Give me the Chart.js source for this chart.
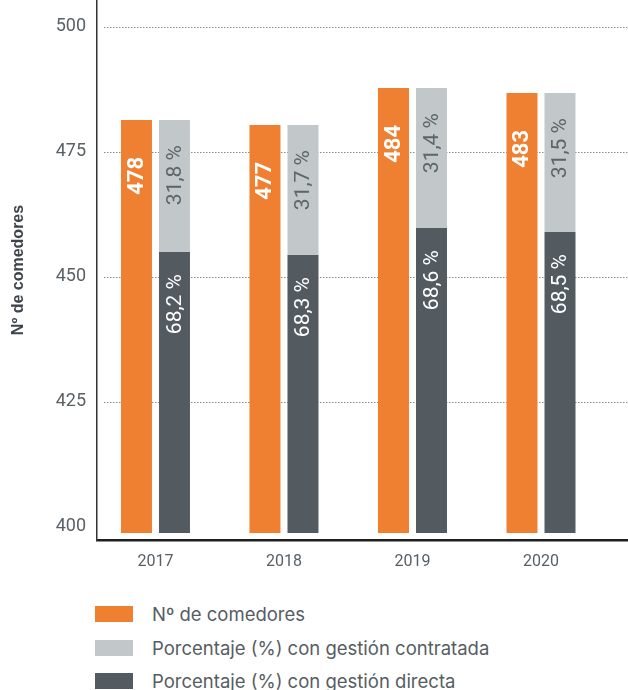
<!DOCTYPE html>
<html>
<head>
<meta charset="utf-8">
<script src="https://cdn.jsdelivr.net/npm/chart.js@4.4.1/dist/chart.umd.min.js"></script>
<style>
  html, body { margin: 0; padding: 0; background: #fff; overflow: hidden; }
  #wrap { position: relative; width: 628px; height: 690px; }
  #c { position: absolute; left: 0; top: 0; }
  .leg { position: absolute; left: 95px; height: 20px; display: flex; align-items: center;
         font-family: Inter, "Noto Sans", sans-serif; font-size: 18.5px; color: #565d62; white-space: nowrap; }
  .leg .box { width: 38px; height: 16px; margin-right: 19px; flex: none; }
</style>
</head>
<body>
<div id="wrap">
  <canvas id="c" width="628" height="575"></canvas>
  <div id="legend"></div>
</div>
<script>
// ---- data ----
const years = [2017, 2018, 2019, 2020];
// bar tops as drawn (value axis)
const comedoresBar = [481.3, 480.3, 487.7, 486.7];
// printed labels
const comedoresLabels = ['478', '477', '484', '483'];
// top of the dark (directa) segment as drawn
const directaTop = [454.9, 454.3, 459.7, 458.9];
// top of the light (contratada) segment as drawn
const contratadaTop = [481.3, 480.3, 487.7, 486.7];
const contratadaLabels = ['31,8 %', '31,7 %', '31,4 %', '31,5 %'];
const directaLabels = ['68,2 %', '68,3 %', '68,6 %', '68,5 %'];
const yTicks = [400, 425, 450, 475, 500];
const gridValues = [425, 450, 475, 500];
const barBase = 398.7;
const yMin = 397.3, yMax = 505.3;
const xMin = 2016.545, xMax = 2020.677;

const legendNames = ['Nº de comedores', 'Porcentaje (%) con gestión contratada', 'Porcentaje (%) con gestión directa'];
const ORANGE = '#EF7F31', LIGHT = '#C2C8CA', DARK = '#535B61';

const dsOrange = {
  label: legendNames[0], stack: 'a', backgroundColor: ORANGE,
  data: years.map((y, i) => ({ x: y, y: [barBase, comedoresBar[i]] })),
  _labels: comedoresLabels, _lab: { color: '#fff', font: 'bold 22px Roboto', off: 37 }
};
const dsDark = {
  label: legendNames[2], stack: 'b', backgroundColor: DARK,
  data: years.map((y, i) => ({ x: y, y: [barBase, directaTop[i]] })),
  _labels: directaLabels, _lab: { color: '#fff', font: '21px Roboto', off: 22 }
};
const dsLight = {
  label: legendNames[1], stack: 'b', backgroundColor: LIGHT,
  data: years.map((y, i) => ({ x: y, y: [directaTop[i], contratadaTop[i]] })),
  _labels: contratadaLabels, _lab: { color: '#5d656a', font: '21px Roboto', off: 25 }
};

const gridPlugin = {
  id: 'dotGrid',
  beforeDatasetsDraw(chart) {
    const ctx = chart.ctx, ys = chart.scales.y;
    ctx.save();
    ctx.strokeStyle = '#8c8c8c';
    ctx.lineWidth = 1;
    ctx.setLineDash([1.5, 1.5]);
    gridValues.forEach(v => {
      const py = Math.round(ys.getPixelForValue(v)) + 0.5;
      ctx.beginPath();
      ctx.moveTo(chart.chartArea.left + 7, py);
      ctx.lineTo(chart.chartArea.right, py);
      ctx.stroke();
    });
    ctx.restore();
  }
};

const labelPlugin = {
  id: 'barLabels',
  afterDatasetsDraw(chart) {
    const ctx = chart.ctx;
    chart.data.datasets.forEach((ds, di) => {
      const meta = chart.getDatasetMeta(di);
      meta.data.forEach((el, i) => {
        const p = el.getProps(['x', 'y'], true);
        ctx.save();
        ctx.translate(p.x + 1, p.y + ds._lab.off);
        ctx.rotate(-Math.PI / 2);
        ctx.font = ds._lab.font;
        ctx.fillStyle = ds._lab.color;
        ctx.textAlign = 'right';
        ctx.textBaseline = 'middle';
        ctx.fillText(ds._labels[i], 0, 0);
        ctx.restore();
      });
    });
  }
};

new Chart(document.getElementById('c'), {
  type: 'bar',
  data: { datasets: [dsOrange, dsDark, dsLight] },
  options: {
    responsive: false,
    animation: false,
    devicePixelRatio: 1,
    categoryPercentage: 0.5914,
    barPercentage: 0.8158,
    layout: { padding: 0 },
    plugins: { legend: { display: false }, tooltip: { enabled: false } },
    scales: {
      x: {
        type: 'linear', min: xMin, max: xMax, offset: false,
        afterBuildTicks: s => { s.ticks = years.map(v => ({ value: v })); },
        afterFit: s => { s.height = 575 - 540; s.paddingLeft = 0; s.paddingRight = 0; },
        grid: { display: true, color: 'rgba(0,0,0,0)', drawTicks: false },
        border: { display: true, color: '#1f1f1f', width: 2.5 },
        ticks: { padding: 12, color: '#585f64', font: { family: 'Roboto', size: 16 },
                 callback: v => String(v), maxRotation: 0, autoSkip: false }
      },
      y: {
        min: yMin, max: yMax, stacked: false,
        afterBuildTicks: s => { s.ticks = yTicks.map(v => ({ value: v })); },
        afterFit: s => { s.width = 97; s.paddingTop = 0; s.paddingBottom = 0; },
        grid: { display: true, color: 'rgba(0,0,0,0)', drawTicks: false },
        border: { display: true, color: '#333', width: 1.5 },
        ticks: { padding: 11, color: '#5a6166', font: { family: 'Roboto', size: 18 } },
        title: { display: true, text: 'Nº de comedores', color: '#3e4449',
                 font: { family: 'Liberation Sans', size: 16, weight: 'bold' }, padding: { top: 9, bottom: 0 } }
      }
    }
  },
  plugins: [gridPlugin, labelPlugin]
});

// HTML legend
const legendColors = [ORANGE, LIGHT, DARK];
const legendTops = [604, 637.5, 671];
const legEl = document.getElementById('legend');
legendNames.forEach((n, i) => {
  const d = document.createElement('div');
  d.className = 'leg';
  d.style.top = legendTops[i] + 'px';
  const b = document.createElement('span');
  b.className = 'box';
  b.style.background = legendColors[i];
  const t = document.createElement('span');
  t.textContent = n;
  d.appendChild(b); d.appendChild(t);
  legEl.appendChild(d);
});
</script>
</body>
</html>
